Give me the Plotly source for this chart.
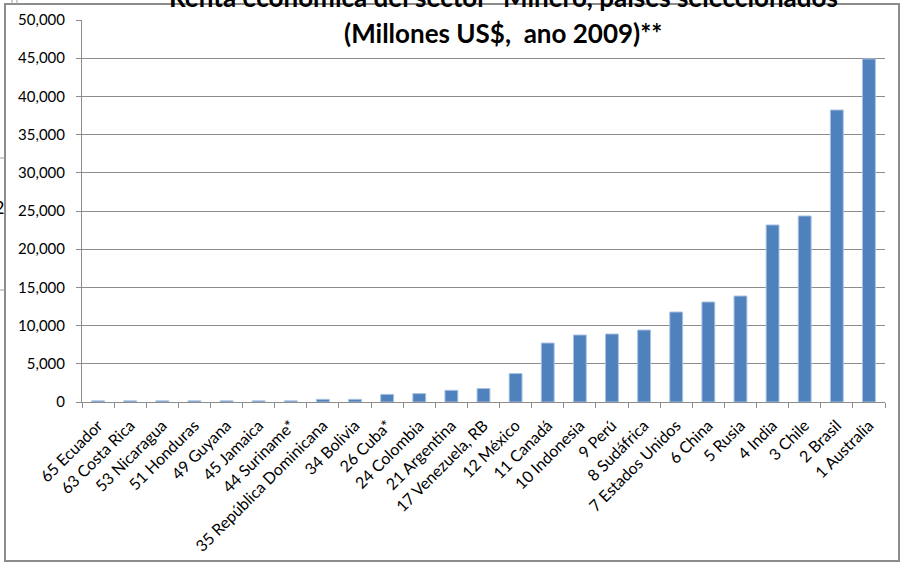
import plotly.graph_objects as go

# Mining-sector economic rent, selected countries, 2009 (millions of US$)
paises = [
    "65 Ecuador", "63 Costa Rica", "53 Nicaragua", "51 Honduras", "49 Guyana",
    "45 Jamaica", "44 Suriname*", "35 República Dominicana", "34 Bolivia",
    "26 Cuba*", "24 Colombia", "21 Argentina", "17 Venezuela, RB", "12 México",
    "11 Canadá", "10 Indonesia", "9 Perú", "8 Sudáfrica", "7 Estados Unidos",
    "6 China", "5 Rusia", "4 India", "3 Chile", "2 Brasil", "1 Australia",
]
renta = [
    150, 150, 150, 150, 150,
    150, 150, 350, 350,
    1000, 1100, 1530, 1760, 3720,
    7720, 8770, 8900, 9420, 11780,
    13090, 13870, 23170, 24350, 38220,
    44900,
]
y_ticks = [0, 5000, 10000, 15000, 20000, 25000, 30000, 35000, 40000, 45000, 50000]

titulo_1 = 'Renta económica del sector "Minero, países seleccionados'
titulo_2 = "(Millones US$,  ano 2009)**"

W, H = 903, 563
L, R, T, B = 82, 18, 20, 161
PW, PH = W - L - R, H - T - B


def px_x(x):
    return (x - L) / PW


def px_y(y):
    return (H - B - y) / PH


FONT = "Lato, 'Open Sans', sans-serif"
GRID = "#8c8c8c"

fig = go.Figure(
    go.Bar(
        x=paises,
        y=renta,
        marker=dict(color="#4F81BD", line=dict(color="#A9C1E0", width=1)),
    )
)

fig.update_layout(
    width=W,
    height=H,
    margin=dict(l=L, r=R, t=T, b=B),
    paper_bgcolor="white",
    plot_bgcolor="white",
    bargap=0.6,
    showlegend=False,
    font=dict(family=FONT, size=15, color="#000000"),
)

fig.update_xaxes(
    type="category",
    automargin=False,
    tickangle=-45,
    tickson="boundaries",
    ticks="outside",
    ticklen=5,
    tickcolor=GRID,
    showline=True,
    linecolor=GRID,
    linewidth=1,
    showgrid=False,
    ticklabelstandoff=7,
    tickfont=dict(family=FONT, size=16, color="#000000"),
)

fig.update_yaxes(
    automargin=False,
    range=[0, 50000],
    tickvals=y_ticks,
    tickformat=",",
    ticks="outside",
    ticklen=5,
    tickcolor=GRID,
    showline=True,
    linecolor=GRID,
    linewidth=1,
    showgrid=True,
    gridcolor=GRID,
    gridwidth=1,
    zeroline=False,
    ticklabelstandoff=8,
    tickfont=dict(family=FONT, size=15, color="#000000"),
)

# chart frame
fig.add_shape(
    type="rect", xref="paper", yref="paper",
    x0=px_x(5), x1=px_x(899), y0=px_y(561), y1=px_y(4),
    line=dict(color="#8c8c8c", width=2), layer="below",
)

# surrounding sheet lines at the left edge
for yy in (158, 290):
    fig.add_shape(
        type="line", xref="paper", yref="paper",
        x0=px_x(0), x1=px_x(5), y0=px_y(yy), y1=px_y(yy),
        line=dict(color="#a0a0a0", width=1),
    )
for xx in (12, 17):
    fig.add_shape(
        type="line", xref="paper", yref="paper",
        x0=px_x(xx), x1=px_x(xx), y0=px_y(0), y1=px_y(4),
        line=dict(color="#a0a0a0", width=1),
    )
fig.add_annotation(
    text="2", xref="paper", yref="paper", x=px_x(6), y=px_y(207),
    xanchor="right", yanchor="middle", showarrow=False,
    font=dict(family=FONT, size=18, color="#000000"),
)

# title, two lines
fig.add_annotation(
    text="<b>" + titulo_1 + "</b>", xref="paper", yref="paper",
    x=px_x(503), y=px_y(-3), xanchor="center", yanchor="middle",
    showarrow=False, font=dict(family=FONT, size=26, color="#000000"),
)
fig.add_annotation(
    text="<b>" + titulo_2 + "</b>", xref="paper", yref="paper",
    x=px_x(503), y=px_y(33), xanchor="center", yanchor="middle",
    showarrow=False, font=dict(family=FONT, size=26, color="#000000"),
)

fig.write_html("out.html")
